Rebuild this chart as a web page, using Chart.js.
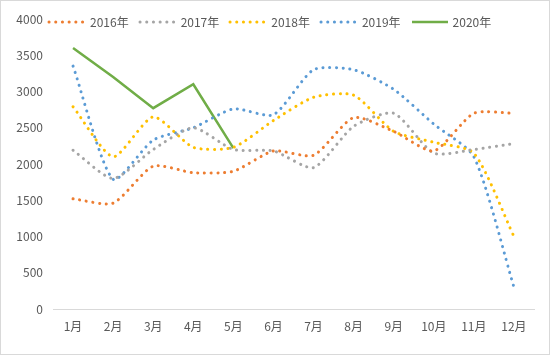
<!DOCTYPE html>
<html>
<head>
<meta charset="utf-8">
<script src="https://cdn.jsdelivr.net/npm/chart.js@4/dist/chart.umd.min.js"></script>
<style>
  html, body { margin: 0; padding: 0; background: #fff; }
  #wrap { position: relative; width: 548px; height: 353px; border: 1px solid #d9d9d9; }
  #legend { position: absolute; top: 12px; left: 46px; display: flex; align-items: center;
    font: 12px "Noto Sans CJK SC", "Noto Sans", sans-serif; color: #595959; }
  #legend .item { display: flex; align-items: center; margin-right: 9px; }
  #legend svg { margin-right: 3px; }
</style>
</head>
<body>
<div id="wrap">
  <canvas id="chart" width="548" height="353"></canvas>
  <div id="legend"></div>
</div>
<script>
const months = ['1月','2月','3月','4月','5月','6月','7月','8月','9月','10月','11月','12月'];
const y2016 = [1520, 1460, 1970, 1880, 1900, 2180, 2120, 2640, 2450, 2180, 2700, 2700];
const y2017 = [2190, 1800, 2200, 2500, 2200, 2180, 1950, 2520, 2700, 2150, 2200, 2280];
const y2018 = [2790, 2100, 2650, 2230, 2230, 2600, 2920, 2950, 2450, 2300, 2150, 1000];
const y2019 = [3350, 1790, 2330, 2500, 2760, 2680, 3300, 3300, 3030, 2550, 2100, 300];
const y2020 = [3600, 3200, 2770, 3100, 2220];

const textColor = '#595959';
const font = { family: '"Noto Sans CJK SC", "Noto Sans", sans-serif', size: 12 };

function dotted(label, data, color){
  return {
    label, data,
    borderColor: color, backgroundColor: color,
    borderWidth: 3, borderDash: [0.1, 6.6], borderCapStyle: 'round',
    pointRadius: 0, tension: 0.22, fill: false
  };
}

const datasets = [
  dotted('2016年', y2016, '#ED7D31'),
  dotted('2017年', y2017, '#A5A5A5'),
  dotted('2018年', y2018, '#FFC000'),
  dotted('2019年', y2019, '#5B9BD5'),
  { label: '2020年', data: y2020, borderColor: '#70AD47', backgroundColor: '#70AD47',
    borderWidth: 2.5, pointRadius: 0, tension: 0, fill: false }
];

// html legend
const legend = document.getElementById('legend');
datasets.forEach(ds => {
  const item = document.createElement('span');
  item.className = 'item';
  const dash = ds.borderDash ? 'stroke-dasharray="0.1 6.6" stroke-linecap="round"' : '';
  item.innerHTML = `<svg width="40" height="6"><line x1="2" y1="3" x2="38" y2="3" stroke="${ds.borderColor}" stroke-width="${ds.borderDash ? 3 : 2.5}" ${dash}/></svg>${ds.label}`;
  legend.append(item);
});

new Chart(document.getElementById('chart'), {
  type: 'line',
  data: { labels: months, datasets },
  options: {
    responsive: false,
    animation: false,
    layout: { padding: { top: 18, right: 15, bottom: 0, left: 0 } },
    plugins: { legend: { display: false }, tooltip: { enabled: false } },
    scales: {
      x: {
        offset: true,
        grid: { display: false, drawTicks: false },
        border: { display: true, color: '#d9d9d9', width: 1 },
        ticks: { color: textColor, font, padding: 10, maxRotation: 0 },
        afterFit: s => { s.height = 45; }
      },
      y: {
        min: 0, max: 4000,
        grid: { display: false, drawTicks: false },
        border: { display: false },
        ticks: { stepSize: 500, color: textColor, font, padding: 10, callback: v => String(v) },
        afterFit: s => { s.width = 52; }
      }
    }
  }
});
</script>
</body>
</html>
